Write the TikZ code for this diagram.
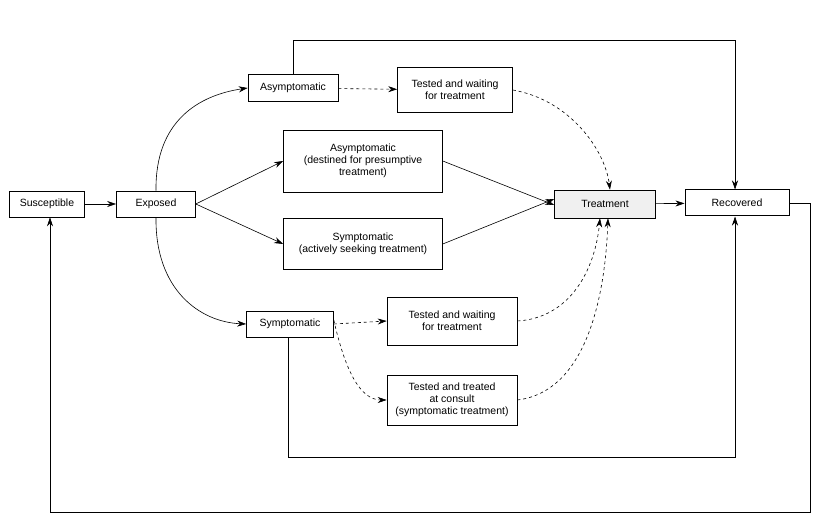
\documentclass[tikz,border=0pt]{standalone}
\usepackage{fontspec}
\setmainfont{Liberation Sans}
\usetikzlibrary{arrows.meta}
\begin{document}
\begin{tikzpicture}[x=1pt,y=-1pt,line width=0.6pt,
 box/.style={draw,line width=0.6pt,align=center,font=\fontsize{10.5}{12}\selectfont,inner sep=0pt,fill=white},
 ar/.style={-{Stealth[length=9pt,width=6pt]},line width=0.6pt},
 da/.style={ar,dashed}]
\useasboundingbox[fill=white] (0,0) rectangle (820,526);
\node[box,minimum width=75,minimum height=26] (s) at (47,204) {Susceptible};
\node[box,minimum width=79,minimum height=26] (e) at (156,204) {Exposed};
\node[box,minimum width=90,minimum height=27] (a) at (293,88) {Asymptomatic};
\node[box,minimum width=115,minimum height=45] (ta) at (455,90) {Tested and waiting\\for treatment};
\node[box,minimum width=159,minimum height=62] (ap) at (363,161) {Asymptomatic\\(destined for presumptive\\treatment)};
\node[box,minimum width=159,minimum height=51] (ss) at (363,244) {Symptomatic\\(actively seeking treatment)};
\node[box,minimum width=101,minimum height=28,fill=black!6] (t) at (605,204) {Treatment};
\node[box,line width=1pt,minimum width=104,minimum height=26] (r) at (737,203) {Recovered};
\node[box,minimum width=87,minimum height=26] (sy) at (290,324) {Symptomatic};
\node[box,minimum width=130,minimum height=48] (tb) at (452,321) {Tested and waiting\\for treatment};
\node[box,minimum width=130,minimum height=50] (tc) at (452,400) {Tested and treated\\at consult\\(symptomatic treatment)};
\coordinate (c1) at (293,40); \coordinate (c2) at (735,40);
\coordinate (c3) at (288,457); \coordinate (c4) at (735,457);
\coordinate (c5) at (810,203); \coordinate (c6) at (810,512); \coordinate (c7) at (50,512);
\draw[ar] (s) -- (e);
\draw[ar] (e.north) .. controls (155,120) and (200,95) .. (a.west);
\draw[ar] (e.south) .. controls (155,290) and (200,322) .. (sy.west);
\draw[ar] (e.east) -- (ap.west);
\draw[ar] (e.east) -- (ss.west);
\draw[ar] (ap.east) -- ([yshift=-1]t.west);
\draw[ar] (ss.east) -- ([yshift=5]t.west);
\draw[da] (a) -- (ta);
\draw[da] (ta.east) .. controls (570,100) and (605,150) .. ([xshift=5]t.north);
\draw[da] (sy.east) -- (tb.west);
\draw[da] ([yshift=4]sy.east) .. controls (345,370) and (360,400) .. (tc.west);
\draw[da] (tb.east) .. controls (570,318) and (595,270) .. ([xshift=-5]t.south);
\draw[da] (tc.east) .. controls (585,392) and (605,300) .. ([xshift=3]t.south);
\draw[ar] (t) -- (r);
\draw[ar] (a.north) -- (c1) -- (c2) -- ([xshift=-2]r.north);
\draw[ar] ([xshift=-2]sy.south) -- (c3) -- (c4) -- ([xshift=-2]r.south);
\draw[ar] (r.east) -- (c5) -- (c6) -- (c7) -- ([xshift=3]s.south);
\end{tikzpicture}
\end{document}
